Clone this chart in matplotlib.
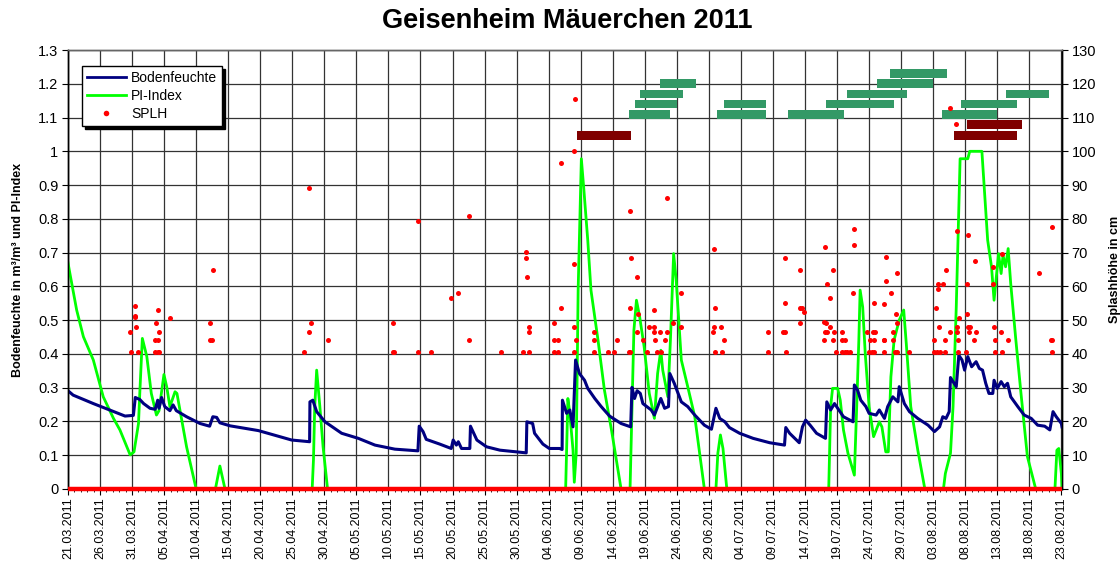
import matplotlib
matplotlib.use("Agg")
import matplotlib.pyplot as plt
import matplotlib.dates as mdates
from matplotlib.ticker import FuncFormatter
from matplotlib.lines import Line2D
import pandas as pd

plt.rcParams['font.family'] = ['Liberation Sans', 'DejaVu Sans']

START = pd.Timestamp('2011-03-21')
END_DAY = 155.1

# ---- Bodenfeuchte (m3/m3), vertices: day offset from 21.03.2011, value
bf_day = [0, 0.8, 3.95, 6.5, 8.9, 10.2, 10.5, 11.2, 11.8, 12.8, 13.6, 14.0, 14.2, 14.6, 15.1, 15.9,
          16.4, 16.9, 18.5, 20.6, 22.1, 22.6, 23.2, 23.7, 25.3, 29.7, 34.9, 37.7, 37.75, 38.2, 38.8,
          40.1, 42.7, 45.3, 47.9, 51.0, 54.6, 54.8, 55.4, 55.9, 58.0, 59.8, 60.1, 60.6, 60.9, 61.4,
          62.7, 62.8, 63.8, 65.3, 67.4, 70.0, 71.5, 71.6, 72.5, 72.8, 74.1, 75.1, 76.7, 77.1, 77.15,
          77.8, 78.3, 78.8, 79.2, 79.8, 80.6, 81.1, 82.2, 83.2, 84.5, 86.3, 87.8, 88.0, 88.4, 88.8,
          89.3, 89.7, 91.0, 91.5, 92.5, 93.1, 93.7, 93.9, 94.6, 95.7, 96.7, 97.8, 99.3, 100.4, 101.1,
          101.7, 102.5, 103.2, 104.8, 106.9, 109.5, 111.8, 112.0, 112.6, 114.1, 114.6, 115.1, 115.8,
          116.8, 118.2, 118.4, 119.0, 119.6, 120.1, 121.0, 122.5, 122.7, 123.2, 123.7, 124.5, 125.0,
          126.1, 126.6, 127.4, 127.9, 128.7, 129.5, 129.7, 130.5, 131.3, 132.6, 134.2, 135.2, 136.0,
          136.5, 137.0, 137.5, 137.7, 138.6, 139.0, 139.5, 139.9, 140.4, 141.0, 141.7, 142.2, 142.7,
          143.2, 143.7, 144.3, 144.5, 145.0, 145.6, 146.1, 146.6, 147.1, 148.2, 149.2, 150.3, 151.3,
          152.4, 153.2, 153.7, 154.2, 155.0, 155.1]
bf_val = [0.291, 0.278, 0.253, 0.234, 0.216, 0.218, 0.271, 0.265, 0.253, 0.239, 0.236, 0.263, 0.239,
          0.271, 0.244, 0.232, 0.249, 0.232, 0.214, 0.194, 0.186, 0.214, 0.212, 0.196, 0.187, 0.173,
          0.145, 0.140, 0.258, 0.263, 0.229, 0.199, 0.165, 0.150, 0.130, 0.118, 0.113, 0.186, 0.170,
          0.147, 0.133, 0.120, 0.145, 0.130, 0.140, 0.120, 0.120, 0.186, 0.145, 0.125, 0.115, 0.110,
          0.107, 0.199, 0.194, 0.165, 0.133, 0.120, 0.120, 0.117, 0.263, 0.224, 0.234, 0.184, 0.382,
          0.342, 0.322, 0.298, 0.268, 0.244, 0.216, 0.194, 0.184, 0.301, 0.268, 0.291, 0.283, 0.253,
          0.234, 0.219, 0.268, 0.239, 0.244, 0.342, 0.313, 0.258, 0.244, 0.219, 0.189, 0.177, 0.239,
          0.209, 0.199, 0.182, 0.165, 0.150, 0.137, 0.130, 0.182, 0.165, 0.137, 0.184, 0.204, 0.189,
          0.165, 0.150, 0.258, 0.234, 0.253, 0.239, 0.214, 0.199, 0.308, 0.293, 0.263, 0.244, 0.224,
          0.219, 0.234, 0.209, 0.244, 0.273, 0.258, 0.303, 0.253, 0.229, 0.209, 0.189, 0.170, 0.184,
          0.214, 0.209, 0.229, 0.330, 0.303, 0.396, 0.382, 0.352, 0.392, 0.362, 0.377, 0.357, 0.352,
          0.313, 0.283, 0.283, 0.322, 0.298, 0.318, 0.303, 0.313, 0.273, 0.244, 0.219, 0.209, 0.189,
          0.186, 0.175, 0.229, 0.214, 0.194, 0.184]

# ---- PI-Index, vertices
pi_day = [0, 0.3, 1.35, 2.4, 3.95, 5.5, 7.1, 8.1, 9.7, 10.3, 11.0, 11.2, 11.6, 12.3, 13.0, 13.8,
          14.2, 14.97, 15.4, 15.9, 16.7, 17.0, 18.5, 20.0, 23.0, 23.7, 24.5, 38.1, 38.3, 38.5, 38.8,
          39.3, 39.8, 40.5, 77.65, 78.0, 78.3, 78.8, 79.0, 79.3, 79.6, 80.1, 80.5, 81.1, 81.6, 82.7,
          83.7, 84.8, 86.3, 87.7, 88.3, 88.7, 89.2, 89.9, 90.7, 91.5, 92.0, 92.5, 92.8, 93.6, 94.0,
          94.5, 94.9, 95.7, 96.7, 97.8, 99.3, 101.1, 101.4, 101.8, 102.2, 102.8, 118.7, 119.0, 119.3,
          120.1, 120.5, 121.0, 121.7, 122.7, 123.1, 123.4, 123.6, 124.0, 124.4, 125.0, 125.7, 126.6,
          127.0, 127.6, 128.0, 128.4, 128.9, 129.7, 130.4, 130.8, 131.5, 132.6, 133.7, 136.6, 136.9,
          137.7, 138.1, 138.6, 139.0, 139.2, 140.4, 140.7, 142.6, 143.0, 143.5, 144.1, 144.5, 144.8,
          145.2, 145.6, 145.9, 146.3, 146.7, 147.1, 147.9, 148.7, 149.7, 151.0, 154.0, 154.3, 154.6,
          155.0, 155.1]
pi_val = [0.670, 0.638, 0.530, 0.451, 0.382, 0.273, 0.209, 0.175, 0.101, 0.110, 0.194, 0.283, 0.446,
          0.392, 0.283, 0.219, 0.232, 0.339, 0.303, 0.244, 0.288, 0.283, 0.125, 0.0, 0.0, 0.068, 0.0,
          0.0, 0.086, 0.244, 0.352, 0.244, 0.125, 0.0, 0.0, 0.268, 0.224, 0.115, 0.020, 0.106, 0.589,
          0.978, 0.885, 0.737, 0.589, 0.441, 0.293, 0.175, 0.0, 0.0, 0.470, 0.559, 0.510, 0.421, 0.283,
          0.209, 0.342, 0.411, 0.352, 0.273, 0.441, 0.697, 0.618, 0.382, 0.303, 0.214, 0.0, 0.0, 0.106,
          0.160, 0.120, 0.0, 0.0, 0.244, 0.298, 0.298, 0.263, 0.175, 0.106, 0.041, 0.263, 0.441, 0.589,
          0.539, 0.401, 0.244, 0.155, 0.199, 0.184, 0.110, 0.110, 0.332, 0.441, 0.500, 0.530, 0.431,
          0.244, 0.115, 0.0, 0.0, 0.046, 0.106, 0.244, 0.539, 0.835, 0.978, 0.978, 1.0, 1.0, 0.885,
          0.737, 0.658, 0.559, 0.618, 0.697, 0.638, 0.692, 0.658, 0.712, 0.608, 0.441, 0.283, 0.096,
          0.0, 0.0, 0.115, 0.120, 0.046, 0.0]

# ---- SPLH (Splashhoehe in cm), single events > 0
splh_day = [9.67, 9.88, 10.45, 10.45, 10.5, 10.66, 11.0, 14.0, 13.8, 14.2, 13.6, 14.1, 13.5, 14.0, 14.2,
            15.85, 22.6, 22.2, 22.2, 22.4,
            37.6, 37.9, 37.6, 36.8, 40.5, 50.7, 50.7, 50.9,
            54.6, 54.6, 56.7, 59.8, 60.8, 62.6, 62.6, 67.5, 71.0, 71.4, 71.4, 71.6, 72.0, 71.9, 72.0,
            75.8, 75.8, 76.5, 75.8, 76.5,
            77.0, 79.0, 77.0, 79.0, 79.1, 79.0, 79.3, 79.0,
            82.1, 82.1, 82.1, 84.2, 85.2, 85.6, 87.7, 87.8, 88.8, 87.7, 88.8, 87.5, 87.7, 88.9, 89.7,
            90.3, 90.7, 91.4, 91.4, 91.4, 91.6, 91.9, 92.5, 92.4, 93.1, 93.5, 93.5, 94.4, 95.7, 95.7,
            100.8, 100.9, 100.8, 101.9, 100.6, 100.9, 102.1, 102.4,
            109.2, 109.2, 111.8, 111.8, 111.6, 111.9, 112.0, 114.2, 114.2, 114.6, 114.8, 114.2,
            118.1, 118.4, 118.9, 119.4, 117.9, 118.2, 118.9, 118.1, 118.4, 117.9, 119.3, 119.6, 119.9,
            120.8, 120.8, 121.2, 120.8, 121.2, 121.6, 122.0, 122.7, 122.7, 122.5,
            124.7, 125.6, 125.9, 125.2, 125.8, 125.0, 125.4, 125.7, 125.7, 127.3, 127.3, 127.3, 127.7,
            127.7, 128.4, 129.4, 129.2, 129.4, 128.8, 128.8, 127.4, 129.3, 129.1, 131.3,
            135.4, 135.7, 135.7, 136.6, 137.0, 135.9, 135.1, 136.8, 135.2, 135.6, 136.0, 136.9, 137.6,
            137.6, 138.6, 138.7, 138.7, 138.7, 138.9, 138.9, 139.1, 140.4, 140.2, 140.2, 140.4, 140.7,
            140.6, 140.1, 141.5, 141.4, 141.7,
            144.3, 144.3, 144.5, 144.7, 144.7, 145.6, 145.8, 145.8, 146.6, 151.5, 153.5, 153.4, 153.6,
            153.5]
splh_cm = [46.4, 40.6, 54.3, 51.3, 50.9, 47.9, 40.6, 52.9, 49.3, 46.4, 44.1, 44.1, 40.6, 40.6, 40.6,
           50.5, 64.8, 49.3, 44.1, 44.1,
           89.0, 49.3, 46.4, 40.6, 44.1, 49.3, 40.6, 40.6,
           79.4, 40.6, 40.6, 56.6, 58.1, 80.9, 44.1, 40.6, 40.6, 70.3, 68.3, 62.8, 47.9, 46.4, 40.6,
           49.3, 44.1, 44.1, 40.6, 40.6,
           53.5, 100.1, 96.4, 66.6, 115.4, 47.9, 44.1, 40.6,
           46.4, 44.1, 40.6, 40.6, 40.6, 44.1, 82.3, 68.3, 62.8, 53.5, 46.4, 40.6, 40.6, 51.7, 44.1,
           40.6, 47.9, 47.9, 52.9, 46.4, 44.1, 40.6, 40.6, 46.4, 44.1, 46.4, 86.1, 49.3, 58.1, 47.9,
           71.2, 53.5, 47.9, 47.9, 46.4, 40.6, 40.6, 44.1,
           46.4, 40.6, 68.3, 55.1, 46.4, 46.4, 40.6, 64.8, 53.5, 53.6, 52.3, 49.3,
           71.8, 60.7, 56.6, 64.8, 49.4, 49.3, 47.9, 46.4, 46.4, 44.1, 44.1, 46.4, 40.6,
           46.4, 44.1, 44.1, 40.6, 40.6, 40.6, 40.6, 77.0, 72.4, 58.1,
           46.4, 46.4, 46.4, 44.1, 44.1, 40.6, 40.6, 40.6, 55.1, 54.8, 44.1, 40.6, 68.8,
           61.5, 58.1, 64.0, 51.7, 49.3, 46.4, 44.1, 44.1, 40.6, 40.6, 40.6,
           53.5, 60.7, 59.2, 60.7, 64.8, 47.9, 44.1, 44.1, 40.6, 40.6, 40.6, 40.6, 46.4,
           112.7, 108.1, 76.4, 47.9, 46.4, 44.1, 40.6, 50.5, 75.2, 60.7, 51.7, 47.9, 47.9,
           46.4, 40.6, 67.5, 44.1, 46.4,
           65.7, 60.7, 47.9, 44.1, 40.6, 46.4, 69.7, 40.6, 44.1, 64.0, 77.6, 44.1, 44.1,
           40.6]
splh_zero_span = [0, 155.1]  # days with SPLH = 0 (drawn as a line on the zero axis)

# ---- period bars (right axis, cm level)
green_start = [87.5, 88.4, 89.3, 92.3, 101.3, 102.4, 112.3, 118.2, 121.5, 126.3, 128.3, 136.4, 139.4, 146.4]
green_end = [94.0, 95.0, 96.0, 98.0, 108.9, 108.9, 121.1, 128.9, 130.9, 134.9, 137.1, 145.0, 148.1, 153.1]
green_level = [111, 114, 117, 120, 111, 114, 111, 114, 117, 120, 123, 111, 114, 117]
red_start = [79.4, 138.3, 140.3]
red_end = [87.9, 148.1, 148.9]
red_level = [104.7, 104.7, 108.0]

# ---- axis ticks
x_tick_step_days = 5
left_ticks = [round(0.1 * i, 1) for i in range(14)]
right_ticks = list(range(0, 131, 10))


def to_date(days):
    return START + pd.to_timedelta(pd.Series(days, dtype=float), unit='D')


fig = plt.figure(figsize=(11.2, 5.62), dpi=100)
ax = fig.add_axes([68 / 1120, 1 - 489 / 562, (1062 - 68) / 1120, (489 - 50) / 562])
ax2 = ax.twinx()

# grid
for t in left_ticks:
    ax.axhline(t, color='#333333', lw=0.9, zorder=0)
xticks = pd.date_range(START, START + pd.Timedelta(days=155), freq=f'{x_tick_step_days}D')
for t in xticks:
    ax.axvline(t, color='#333333', lw=0.9, zorder=0)

ax.plot(to_date(pi_day), pi_val, color='#00FF00', lw=2.0, zorder=3)
ax.plot(to_date(bf_day), bf_val, color='#000080', lw=2.2, zorder=4)

# right axis: bars, dots, zero line
for s, e, lv in zip(green_start, green_end, green_level):
    ax2.barh(lv, pd.Timedelta(days=e - s), left=START + pd.Timedelta(days=s), height=2.6,
             color='#339966', edgecolor='none', zorder=3)
for s, e, lv in zip(red_start, red_end, red_level):
    ax2.barh(lv, pd.Timedelta(days=e - s), left=START + pd.Timedelta(days=s), height=2.6,
             color='#800000', edgecolor='none', zorder=3)
ax2.plot(to_date(splh_day), splh_cm, linestyle='none', marker='o', ms=3.6, color='#FF0000',
         markeredgewidth=0, zorder=4)
ax2.plot(to_date(splh_zero_span), [0, 0], color='#FF0000', lw=3.2, zorder=5, solid_capstyle='butt',
         clip_on=False)

xmin = START
xmax = START + pd.Timedelta(days=END_DAY)
ax.set_xlim(xmin, xmax)
ax2.set_xlim(xmin, xmax)
ax.set_ylim(0, 1.3)
ax2.set_ylim(0, 130)

ax.set_xticks(xticks)
ax.xaxis.set_major_formatter(mdates.DateFormatter('%d.%m.%Y'))
ax.xaxis.set_minor_locator(mdates.DayLocator())
ax.tick_params(axis='x', which='major', labelsize=9, rotation=90, length=4, width=0.8, pad=2)
ax.tick_params(axis='x', which='minor', length=2.5, width=0.6)
ax.set_yticks(left_ticks)
ax.yaxis.set_major_formatter(FuncFormatter(lambda v, p: f'{v:g}'))
ax.tick_params(axis='y', labelsize=10.5, length=4, width=0.8, pad=3)
ax2.set_yticks(right_ticks)
ax2.tick_params(axis='y', labelsize=10.5, length=4, width=0.8, pad=3)

for a in (ax, ax2):
    for sp in a.spines.values():
        sp.set_linewidth(1.0)
    a.spines['top'].set_color('#666666')

ax.set_ylabel('Bodenfeuchte in m³/m³ und PI-Index', fontsize=9, fontweight='bold', labelpad=10)
ax2.set_ylabel('Splashhöhe in cm', fontsize=9, fontweight='bold', rotation=90, labelpad=9)
fig.text(567 / 1120, 1 - 21 / 562, 'Geisenheim Mäuerchen 2011', fontsize=19.5, fontweight='bold',
         ha='center', va='center')

handles = [Line2D([], [], color='#000080', lw=2.0),
           Line2D([], [], color='#00FF00', lw=2.0),
           Line2D([], [], color='#FF0000', marker='o', ms=4, lw=0, markeredgewidth=0)]
leg = ax2.legend(handles, ['Bodenfeuchte', 'PI-Index', 'SPLH'], loc='upper left',
                 bbox_to_anchor=(0.014, 0.964), borderaxespad=0, fontsize=10, frameon=True,
                 fancybox=False, shadow={'color': 'black', 'alpha': 1.0}, edgecolor='black',
                 framealpha=1, handlelength=2.8, handletextpad=0.4, labelspacing=0.3,
                 borderpad=0.35)
leg.get_frame().set_linewidth(1.0)
leg.set_zorder(10)

fig.savefig('out.png', dpi=100)
